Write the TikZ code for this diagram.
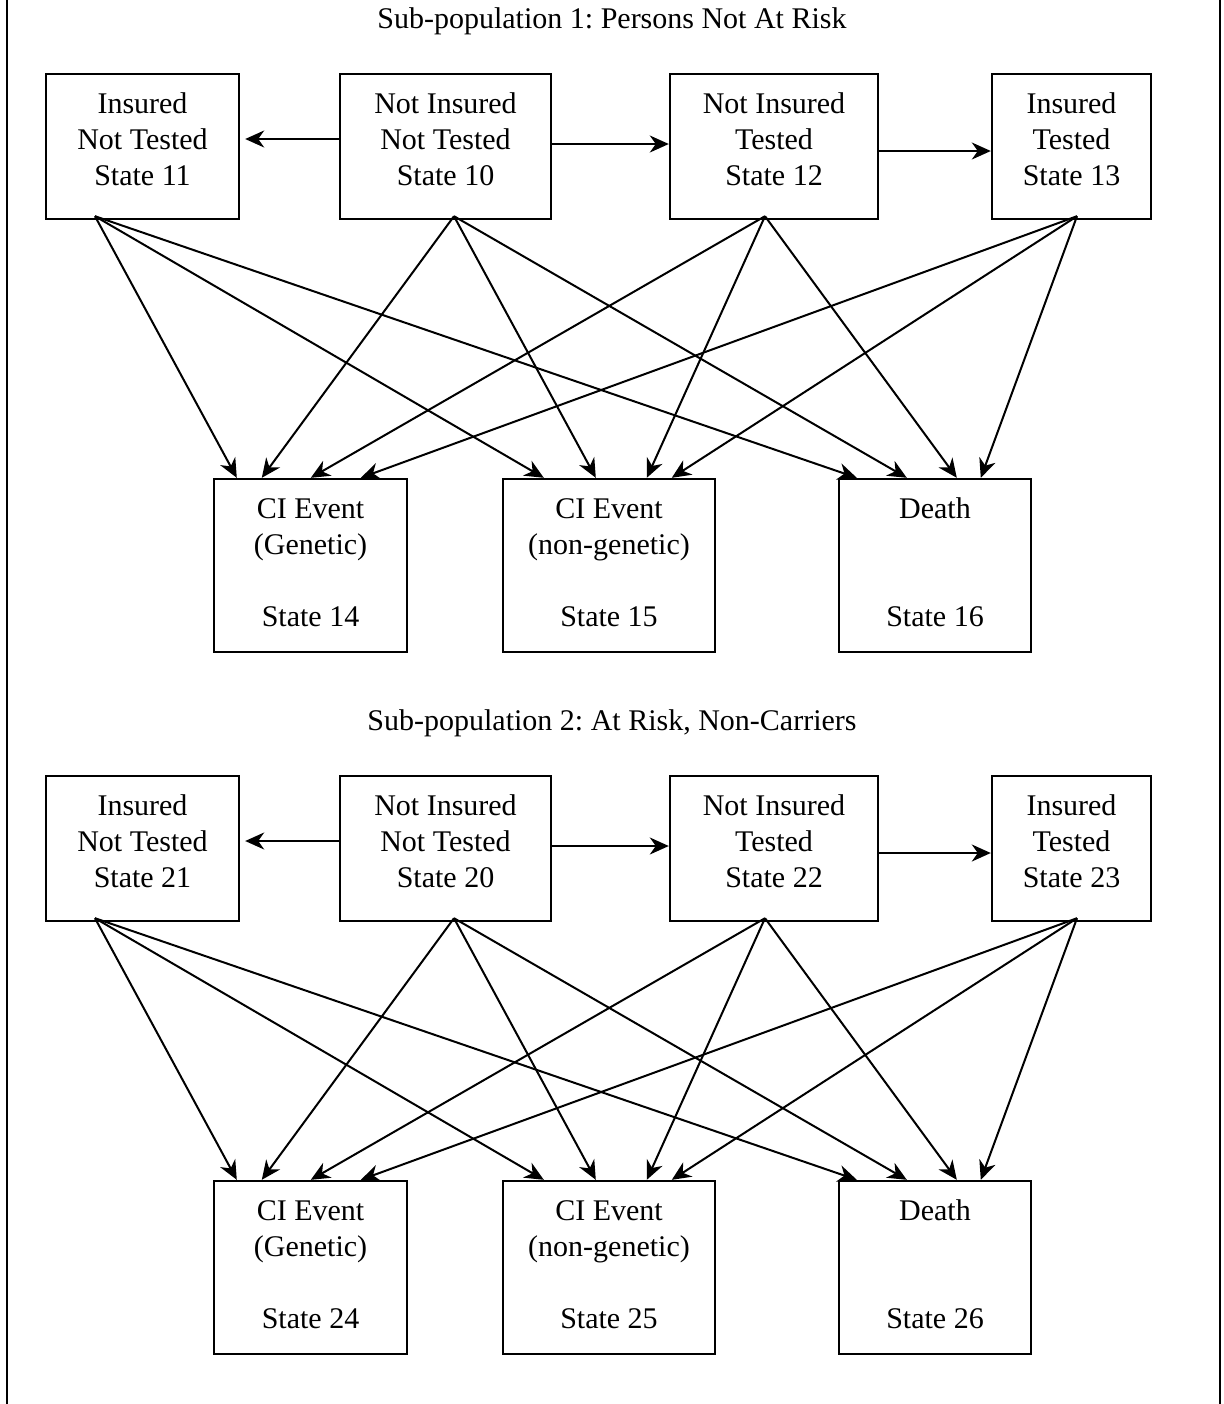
\documentclass[tikz,border=0pt]{standalone}
\usepackage{fontspec}
\setmainfont{Liberation Serif}
\usetikzlibrary{arrows.meta,calc}
\frenchspacing

% One sub-population block: #1 = leading state digit, #2 = vertical offset, #3 = heading
\newcommand\subpopulation[3]{%
  \begin{scope}[yshift=#2]
    \node[heading] (title#1) at (612,28) {#3};
    % upper row of states
    \node[statebox, minimum width=96.5pt,  minimum height=72.5pt] (b#11) at (142.5,146.5) {};
    \node[statebox, minimum width=105.5pt, minimum height=72.5pt] (b#10) at (445.5,146.5) {};
    \node[statebox, minimum width=104pt,   minimum height=72.5pt] (b#12) at (774,146.5) {};
    \node[statebox, minimum width=79.5pt,  minimum height=72.5pt] (b#13) at (1071.5,146.5) {};
    % lower row of states
    \node[statebox, minimum width=96.5pt, minimum height=86.5pt] (b#14) at (310.5,565.5) {};
    \node[statebox, minimum width=106pt,  minimum height=86.5pt] (b#15) at (609,565.5) {};
    \node[statebox, minimum width=96pt,   minimum height=86.5pt] (b#16) at (935,565.5) {};
    % labels
    \node[boxtext] (t#11) at ($(b#11.north)+(0,15.5)$) {\strut Insured\\Not Tested\\State #11};
    \node[boxtext] (t#10) at ($(b#10.north)+(0,15.5)$) {\strut Not Insured\\Not Tested\\State #10};
    \node[boxtext] (t#12) at ($(b#12.north)+(0,15.5)$) {\strut Not Insured\\Tested\\State #12};
    \node[boxtext] (t#13) at ($(b#13.north)+(0,15.5)$) {\strut Insured\\Tested\\State #13};
    \node[boxtext] (t#14) at ($(b#14.north)+(0,15.5)$) {\strut CI Event\\(Genetic)\\\mbox{}\\State #14};
    \node[boxtext] (t#15) at ($(b#15.north)+(0,15.5)$) {\strut CI Event\\(non-genetic)\\\mbox{}\\State #15};
    \node[boxtext] (t#16) at ($(b#16.north)+(0,15.5)$) {\strut Death\\\mbox{}\\\mbox{}\\State #16};
    % starting points of the downward transitions
    \coordinate (s#11) at ($(b#11.south)+(-47.5,-4)$);
    \coordinate (s#10) at ($(b#10.south)+(8.5,-4)$);
    \coordinate (s#12) at ($(b#12.south)+(-9,-4)$);
    \coordinate (s#13) at ($(b#13.south)+(5.5,-4)$);
    % testing / insuring transitions
    \draw[arr] ($(b#10.west)+(0,-7.5)$) -- ($(b#11.east)+(5,-7.5)$);
    \draw[arr] ($(b#10.east)+(0,-2.5)$) -- ($(b#12.west)+(0,-2.5)$);
    \draw[arr] ($(b#12.east)+(0,4.5)$) -- ($(b#13.west)+(0,4.5)$);
    % transitions to the absorbing states
    \draw[arr] (s#11) -- ($(b#14.north west)+(24,0)$);
    \draw[arr] (s#11) -- ($(b#15.north west)+(42,0)$);
    \draw[arr] (s#11) -- ($(b#16.north west)+(19,0)$);
    \draw[arr] (s#10) -- ($(b#14.north west)+(49,0)$);
    \draw[arr] (s#10) -- ($(b#15.north west)+(94,0)$);
    \draw[arr] (s#10) -- ($(b#16.north west)+(69,0)$);
    \draw[arr] (s#12) -- ($(b#14.north west)+(98,0)$);
    \draw[arr] (s#12) -- ($(b#15.north west)+(145,0)$);
    \draw[arr] (s#12) -- ($(b#16.north west)+(119,0)$);
    \draw[arr] (s#13) -- ($(b#14.north west)+(148,0)$);
    \draw[arr] (s#13) -- ($(b#15.north west)+(170,0)$);
    \draw[arr] (s#13) -- ($(b#16.north west)+(143,0)$);
  \end{scope}}

\begin{document}
\begin{tikzpicture}[x=0.5pt, y=-0.5pt,
  statebox/.style={draw, line width=1.2pt, rectangle, inner sep=0pt},
  boxtext/.style={anchor=north, inner sep=0pt, align=center, font=\fontsize{15}{18}\selectfont},
  heading/.style={anchor=base, inner sep=0pt, font=\fontsize{15}{18}\selectfont},
  arr/.style={line width=1pt, -{Stealth[length=9.5pt, width=8.5pt, inset=3pt]}},
  framerule/.style={line width=1.1pt}]
  \useasboundingbox (0,0) rectangle (1223,1404);
  % page frame sides
  \draw[framerule] (7,0) -- (7,1404);
  \draw[framerule] (1220,0) -- (1220,1404);
  \subpopulation{1}{0pt}{Sub-population 1: Persons Not At Risk}
  \subpopulation{2}{-351pt}{Sub-population 2: At Risk, Non-Carriers}
\end{tikzpicture}
\end{document}
